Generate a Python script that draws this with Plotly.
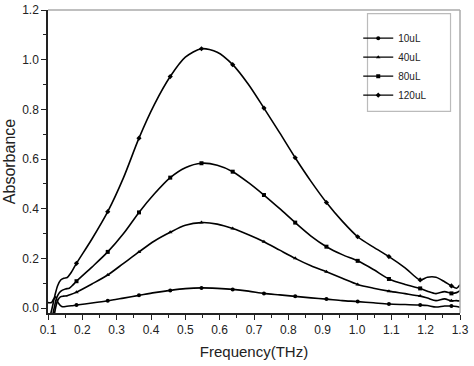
import numpy as np
import plotly.graph_objects as go

# ---------------- data ----------------
GRID = [0.183, 0.228, 0.274, 0.32, 0.365, 0.41, 0.456, 0.50, 0.547, 0.593, 0.638,
        0.684, 0.729, 0.775, 0.82, 0.866, 0.911, 0.957, 1.002, 1.048, 1.093, 1.14,
        1.184, 1.205, 1.23, 1.255, 1.275, 1.29, 1.3]

MARKER_X = [0.183, 0.274, 0.365, 0.456, 0.547, 0.638, 0.729, 0.82, 0.911, 1.002,
            1.093, 1.184, 1.275]

start_x_10 = [0.1, 0.11, 0.116, 0.122, 0.13, 0.14, 0.155, 0.168]
start_y_10 = [0.022, 0.022, 0.035, 0.045, 0.02, 0.006, 0.007, 0.009]
tail_y_10 = [0.012, 0.020, 0.029, 0.040, 0.051, 0.062, 0.071, 0.078, 0.081, 0.079, 0.075,
             0.068, 0.059, 0.053, 0.047, 0.041, 0.036, 0.030, 0.026, 0.021, 0.016, 0.014,
             0.012, 0.010, 0.004, 0.008, 0.008, 0.006, 0.003]

start_x_40 = [0.117, 0.122, 0.128, 0.136, 0.145, 0.155, 0.166]
start_y_40 = [-0.04, 0.0, 0.03, 0.045, 0.048, 0.049, 0.054]
tail_y_40 = [0.064, 0.097, 0.133, 0.180, 0.226, 0.270, 0.305, 0.333, 0.344, 0.338, 0.320,
             0.295, 0.267, 0.233, 0.200, 0.170, 0.146, 0.120, 0.095, 0.080, 0.068, 0.058,
             0.048, 0.040, 0.030, 0.037, 0.029, 0.030, 0.028]

start_x_80 = [0.112, 0.118, 0.125, 0.133, 0.142, 0.151, 0.162, 0.172]
start_y_80 = [-0.04, 0.0, 0.04, 0.062, 0.072, 0.077, 0.080, 0.092]
tail_y_80 = [0.108, 0.165, 0.226, 0.300, 0.385, 0.460, 0.525, 0.565, 0.583, 0.575, 0.549,
             0.505, 0.455, 0.400, 0.344, 0.290, 0.247, 0.215, 0.190, 0.155, 0.117, 0.095,
             0.079, 0.068, 0.058, 0.066, 0.059, 0.062, 0.070]

start_x_120 = [0.105, 0.112, 0.12, 0.128, 0.137, 0.146, 0.156, 0.166]
start_y_120 = [-0.04, 0.0, 0.05, 0.09, 0.113, 0.120, 0.123, 0.140]
tail_y_120 = [0.180, 0.278, 0.388, 0.525, 0.684, 0.820, 0.932, 1.010, 1.044, 1.030, 0.980,
              0.900, 0.805, 0.705, 0.605, 0.510, 0.425, 0.350, 0.287, 0.245, 0.207, 0.162,
              0.113, 0.124, 0.124, 0.106, 0.089, 0.080, 0.094]

SERIES = ["10uL", "40uL", "80uL", "120uL"]
SYMBOLS = ["circle", "triangle-up", "square", "diamond"]

X_TICKS = [0.1, 0.2, 0.3, 0.4, 0.5, 0.6, 0.7, 0.8, 0.9, 1.0, 1.1, 1.2, 1.3]
Y_TICKS = [0.0, 0.2, 0.4, 0.6, 0.8, 1.0, 1.2]

data = {
    "10uL": (start_x_10 + GRID, start_y_10 + tail_y_10),
    "40uL": (start_x_40 + GRID, start_y_40 + tail_y_40),
    "80uL": (start_x_80 + GRID, start_y_80 + tail_y_80),
    "120uL": (start_x_120 + GRID, start_y_120 + tail_y_120),
}

fig = go.Figure()
for name, sym in zip(SERIES, SYMBOLS):
    xs, ys = data[name]
    xs = np.array(xs)
    ys = np.array(ys)
    fig.add_trace(go.Scatter(x=xs, y=ys, mode="lines", line=dict(color="black", width=1.6,
                             shape="spline", smoothing=0.8), showlegend=False, hoverinfo="skip"))
    mask = np.array([np.any(np.isclose(x, MARKER_X, atol=1e-4)) for x in xs])
    fig.add_trace(go.Scatter(x=xs[mask], y=ys[mask], mode="markers",
                             marker=dict(symbol=sym, size=4, color="black"),
                             showlegend=False, cliponaxis=True))
    fig.add_trace(go.Scatter(x=[None], y=[None], mode="lines+markers", name=name,
                             line=dict(color="black", width=1.4),
                             marker=dict(symbol=sym, size=4, color="black")))

FAM = "Liberation Sans, Arial, sans-serif"
axis_font = dict(family=FAM, size=12, color="#222")
fig.update_layout(
    width=474, height=366,
    margin=dict(l=48, r=14, t=10, b=53),
    paper_bgcolor="white", plot_bgcolor="white",
    font=dict(family=FAM, color="#222"),
    xaxis=dict(range=[0.1, 1.3], tickvals=X_TICKS, tickformat=".1f", automargin=False,
               ticks="outside", ticklen=5, tickwidth=1.2, tickcolor="#222",
               minor=dict(dtick=0.05, ticks="outside", ticklen=3, tickcolor="#222"),
               showline=True, linecolor="#222", linewidth=1.5, showgrid=False, zeroline=False,
               tickfont=axis_font,
               title=dict(text="Frequency(THz)", font=dict(size=15, family=FAM, color="#222"),
                          standoff=10)),
    yaxis=dict(range=[-0.02, 1.2], tickvals=Y_TICKS, tickformat=".1f", automargin=False,
               ticks="outside", ticklen=5, tickwidth=1.2, tickcolor="#222",
               minor=dict(dtick=0.1, ticks="outside", ticklen=3, tickcolor="#222"),
               showline=True, linecolor="#222", linewidth=1.5, showgrid=False, zeroline=False,
               tickfont=axis_font,
               title=dict(text="Absorbance", font=dict(size=16, family=FAM, color="#222"),
                          standoff=3)),
    legend=dict(x=0.753, y=0.955, xanchor="left", yanchor="top",
                bgcolor="rgba(0,0,0,0)", borderwidth=0,
                font=dict(size=10, family=FAM, color="#222"),
                tracegroupgap=0, itemwidth=30),
    shapes=[
        dict(type="line", xref="paper", yref="paper", x0=0, x1=1, y0=1, y1=1,
             line=dict(color="#aaa", width=1.5)),
        dict(type="line", xref="paper", yref="paper", x0=1, x1=1, y0=0, y1=1,
             line=dict(color="#aaa", width=1.5)),
        dict(type="rect", xref="paper", yref="paper", x0=0.7755, x1=0.977, y0=0.6656, y1=0.988,
             line=dict(color="#bbb", width=1.2)),
    ],
)

fig.write_html("out.html", config={"displayModeBar": False},
               post_script="document.body.style.margin='0px';")
